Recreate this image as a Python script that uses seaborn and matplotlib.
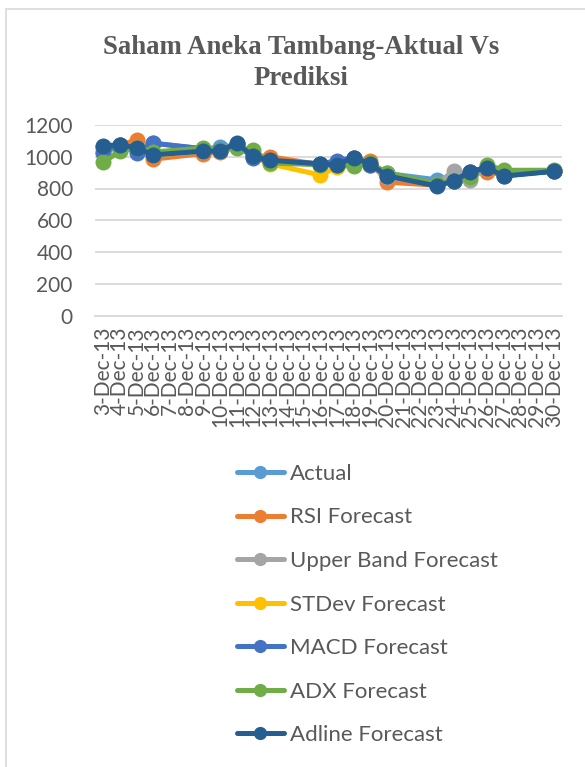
import numpy as np
import pandas as pd
import matplotlib
matplotlib.use("Agg")
import matplotlib.pyplot as plt
import matplotlib.dates as mdates
from matplotlib.lines import Line2D
from matplotlib.patches import Rectangle
import seaborn as sns

# ---------------- data ----------------
days = [3, 4, 5, 6, 9, 10, 11, 12, 13, 16, 17, 18, 19, 20, 23, 24, 25, 26, 27, 30]
actual = [1030, 1075, 1045, 1085, 1050, 1060, 1075, 1000, 975, 955, 965, 990, 950, 895, 855, 850, 905, 930, 890, 910]
rsi = [1060, 1075, 1105, 985, 1020, 1030, 1080, 1005, 1000, 950, 945, 985, 975, 840, 820, 850, 895, 905, 885, 910]
upper_band = [1060, 1075, 1055, 1010, 1035, 1035, 1080, 1000, 970, 950, 945, 990, 945, 870, 830, 910, 855, 935, 890, 910]
stdev = [1060, 1075, 1055, 1010, 1035, 1035, 1080, 1000, 955, 885, 935, 990, 950, 880, 820, 850, 900, 935, 885, 910]
macd = [1025, 1075, 1025, 1085, 1050, 1040, 1080, 990, 975, 955, 975, 995, 950, 880, 820, 850, 905, 935, 880, 910]
adx = [965, 1035, 1055, 1030, 1055, 1040, 1055, 1045, 960, 950, 945, 940, 960, 900, 830, 845, 870, 950, 915, 915]
adline = [1068, 1077, 1055, 1012, 1035, 1035, 1085, 1002, 978, 955, 948, 995, 955, 880, 815, 848, 905, 932, 878, 908]

series_names = ["Actual", "RSI Forecast", "Upper Band Forecast", "STDev Forecast",
                "MACD Forecast", "ADX Forecast", "Adline Forecast"]
series_values = [actual, rsi, upper_band, stdev, macd, adx, adline]
colors = ["#5B9BD5", "#ED7D31", "#A5A5A5", "#FFC000", "#4472C4", "#70AD47", "#255E91"]

title_text = "Saham Aneka Tambang-Aktual Vs\nPrediksi"
y_ticks = [0, 200, 400, 600, 800, 1000, 1200]

# ---------------- build table ----------------
dates = pd.to_datetime([f"2013-12-{d:02d}" for d in days])
frames = []
for name, vals in zip(series_names, series_values):
    frames.append(pd.DataFrame({"Date": dates, "Value": vals, "Series": name}))
df = pd.concat(frames, ignore_index=True)

sns.set_theme(style="white")
plt.rcParams["font.family"] = ["Lato", "DejaVu Sans"]

fig = plt.figure(figsize=(5.85, 7.67), dpi=100)
ax = fig.add_axes([95 / 585, 1 - 315.5 / 767, (562 - 95) / 585, (315.5 - 125) / 767])

sns.lineplot(data=df, x="Date", y="Value", hue="Series", hue_order=series_names,
             palette=colors, marker="o", markersize=11.5, markeredgewidth=0,
             linewidth=3.6, ax=ax, legend=False, sort=True)

# axes styling
ax.set_ylim(0, 1200)
ax.set_yticks(y_ticks)
ax.set_xlim(pd.Timestamp("2013-12-02 12:00"), pd.Timestamp("2013-12-30 12:00"))
all_days = pd.date_range("2013-12-03", "2013-12-30", freq="D")
ax.set_xticks(all_days)
ax.set_xticklabels([f"{d.day}-Dec-13" for d in all_days], rotation=90,
                   fontsize=15, color="#595959")
boundaries = pd.date_range("2013-12-02 12:00", "2013-12-30 12:00", freq="D")
ax.set_xticks(boundaries, minor=True)
ax.tick_params(axis="x", which="major", length=0, pad=8)
ax.tick_params(axis="x", which="minor", length=4, width=1.2, color="#D9D9D9", direction="out")
ax.tick_params(axis="y", length=0, pad=16, labelsize=15, labelcolor="#595959")
ax.set_xlabel("")
ax.set_ylabel("")
ax.grid(axis="y", color="#D9D9D9", linewidth=1.3)
ax.set_axisbelow(True)
for s in ["top", "right", "left"]:
    ax.spines[s].set_visible(False)
ax.spines["bottom"].set_color("#D9D9D9")
ax.spines["bottom"].set_linewidth(1.3)

# title
fig.text(301 / 585, 1 - 35 / 767, title_text, ha="center", va="top",
         family="Liberation Serif", fontweight="bold", fontsize=19.3,
         color="#595959", linespacing=1.32)

# legend
handles = [Line2D([0], [0], color=c, lw=3.6, marker="o", markersize=9.5, markeredgewidth=0)
           for c in colors]
fig.legend(handles, series_names, loc="upper left",
           bbox_to_anchor=(228 / 585, 1 - 455 / 767), frameon=False,
           fontsize=16, labelcolor="#595959", handlelength=2.1,
           handletextpad=0.3, labelspacing=1.06, borderaxespad=0)

# chart border
fig.add_artist(Rectangle((6 / 585, -0.05), 1.0, 1 - 9 / 767 + 0.05,
                         transform=fig.transFigure, fill=False,
                         edgecolor="#D9D9D9", linewidth=1.2))

fig.savefig("out.png", dpi=100)
